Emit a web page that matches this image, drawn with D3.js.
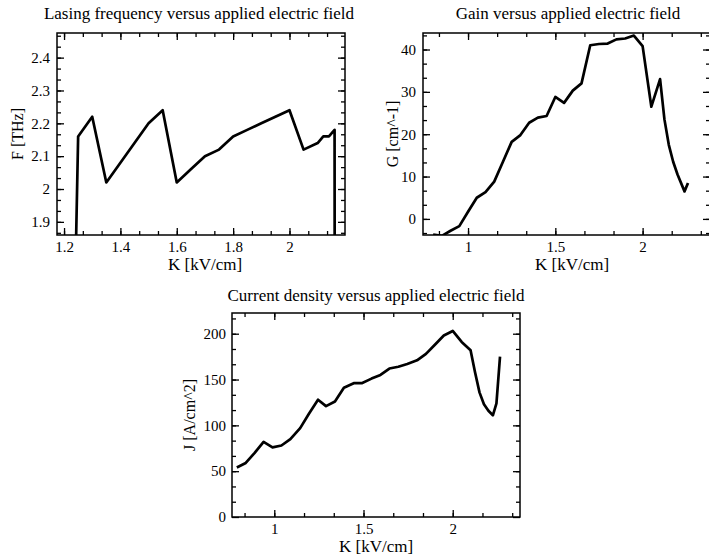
<!DOCTYPE html>
<html>
<head>
<meta charset="utf-8">
<script src="https://cdn.jsdelivr.net/npm/d3@7"></script>
<style>
  body { margin: 0; background: #fff; }
  svg text { font-family: "Liberation Serif", "DejaVu Serif", serif !important; fill: #000; }
</style>
</head>
<body>
<script>
// lasing frequency F [THz] vs K [kV/cm]
var freqK = [1.2, 1.25, 1.3, 1.35, 1.4, 1.45, 1.5, 1.55, 1.6, 1.65, 1.7, 1.75, 1.8, 1.85, 1.9, 1.95, 2.0, 2.05, 2.1, 2.12, 2.14, 2.16, 2.162];
var freqF = [0, 2.16, 2.22, 2.02, 2.08, 2.14, 2.2, 2.24, 2.02, 2.06, 2.1, 2.12, 2.16, 2.18, 2.2, 2.22, 2.24, 2.12, 2.14, 2.16, 2.16, 2.18, 0];

// gain G [cm^-1]
var gainK = [0.8, 0.85, 0.9, 0.95, 1.0, 1.05, 1.1, 1.15, 1.2, 1.25, 1.3, 1.35, 1.4, 1.45, 1.5, 1.55, 1.6, 1.65, 1.7, 1.75, 1.8, 1.85, 1.9, 1.95, 2.0, 2.05, 2.1, 2.125, 2.15, 2.175, 2.2, 2.24, 2.26];
var gainG = [-3.7, -4.0, -2.8, -1.7, 1.7, 5.0, 6.3, 8.8, 13.5, 18.2, 19.8, 22.7, 23.9, 24.3, 28.8, 27.4, 30.3, 32.0, 41.0, 41.3, 41.4, 42.4, 42.6, 43.3, 40.8, 26.5, 33.0, 23.5, 17.5, 13.5, 10.5, 6.5, 8.5];

// current density J [A/cm^2]
var curK = [0.79, 0.84, 0.89, 0.94, 0.99, 1.04, 1.09, 1.145, 1.195, 1.245, 1.29, 1.34, 1.39, 1.445, 1.49, 1.545, 1.595, 1.645, 1.695, 1.745, 1.8, 1.85, 1.9, 1.95, 2.0, 2.05, 2.1, 2.125, 2.15, 2.175, 2.2, 2.225, 2.245, 2.265];
var curJ = [54, 59, 70, 82, 76, 78, 85, 97, 113, 128, 121, 126, 141, 146, 146, 151, 155, 162, 164, 167, 171, 178, 188, 198, 203, 191, 182, 158, 136, 123, 116, 111, 124, 175];

var panels = [
  {title: 'Lasing frequency versus applied electric field', xLab: 'K [kV/cm]', yLab: 'F [THz]',
   xs: freqK, ys: freqF, x0: 57, x1: 345, y0: 33, y1: 235,
   xDom: [1.175, 2.197], yDom: [1.86, 2.475],
   xTicks: [1.2, 1.4, 1.6, 1.8, 2], yTicks: [1.9, 2, 2.1, 2.2, 2.3, 2.4],
   tx: 199, lx: 205, ty: 19, yOff: 34},
  {title: 'Gain versus applied electric field', xLab: 'K [kV/cm]', yLab: 'G [cm^-1]',
   xs: gainK, ys: gainG, x0: 423, x1: 710, y0: 33, y1: 235,
   xDom: [0.742, 2.386], yDom: [-3.8, 43.9],
   xTicks: [1, 1.5, 2], yTicks: [0, 10, 20, 30, 40],
   tx: 568, lx: 572, ty: 19, yOff: 25},
  {title: 'Current density versus applied electric field', xLab: 'K [kV/cm]', yLab: 'J [A/cm^2]',
   xs: curK, ys: curJ, x0: 232, x1: 520, y0: 313, y1: 517,
   xDom: [0.763, 2.377], yDom: [0, 222.6],
   xTicks: [1, 1.5, 2], yTicks: [0, 50, 100, 150, 200],
   tx: 376, lx: 376, ty: 301, yOff: 37}
];

var svg = d3.select('body').append('svg').attr('width', 709).attr('height', 558);

function minors(ticks, dom) {
  var step = (ticks[1] - ticks[0]) / 3, out = [];
  for (var v = ticks[0] - 10 * step; v <= dom[1] + 1e-9; v += step) {
    if (v >= dom[0] && v <= dom[1]) out.push(v);
  }
  return out;
}

panels.forEach(function(p, i) {
  var x = d3.scaleLinear().domain(p.xDom).range([p.x0, p.x1]);
  var y = d3.scaleLinear().domain(p.yDom).range([p.y1, p.y0]);
  var g = svg.append('g').attr('class', 'panel' + i);
  var fmt = function(d) { return d3.format('~g')(d); };

  var xMin = minors(p.xTicks, p.xDom), yMin = minors(p.yTicks, p.yDom);

  // ticks on all four sides, pointing inward
  var sides = [
    [d3.axisBottom(x), 'translate(0,' + p.y1 + ')', p.xTicks, xMin, 6],
    [d3.axisTop(x), 'translate(0,' + p.y0 + ')', p.xTicks, xMin, 0],
    [d3.axisLeft(y), 'translate(' + p.x0 + ',0)', p.yTicks, yMin, i == 2 ? 6 : 7],
    [d3.axisRight(y), 'translate(' + p.x1 + ',0)', p.yTicks, yMin, 0]
  ];
  sides.forEach(function(s) {
    g.append('g').attr('transform', s[1])
      .call(s[0].tickValues(s[3]).tickSize(-4).tickFormat(''))
      .call(function(a) { a.select('.domain').remove(); });
    var ax = g.append('g').attr('transform', s[1])
      .call(s[0].tickValues(s[2]).tickSize(-7).tickPadding(s[4])
        .tickFormat(s[4] ? fmt : ''));
    ax.select('.domain').remove();
    ax.attr('font-family', 'Liberation Serif');
    ax.selectAll('text').style('font-size', '15px');
  });
  g.selectAll('.tick line').attr('stroke', '#000').attr('stroke-width', 1.3);

  g.append('rect').attr('x', p.x0).attr('y', p.y0)
    .attr('width', p.x1 - p.x0).attr('height', p.y1 - p.y0)
    .attr('fill', 'none').attr('stroke', '#000').attr('stroke-width', 1.5);

  g.append('clipPath').attr('id', 'clip' + i).append('rect')
    .attr('x', p.x0).attr('y', p.y0).attr('width', p.x1 - p.x0).attr('height', p.y1 - p.y0);

  var line = d3.line()
    .x(function(d, k) { return x(p.xs[k]); })
    .y(function(d) { return y(d); });
  g.append('path').attr('clip-path', 'url(#clip' + i + ')')
    .attr('fill', 'none').attr('stroke', '#000').attr('stroke-width', 2.7)
    .attr('stroke-linejoin', 'round')
    .attr('d', line(p.ys));

  g.append('text').attr('x', p.tx).attr('y', p.ty).attr('text-anchor', 'middle')
    .style('font-size', '17px').text(p.title);
  g.append('text').attr('x', p.lx).attr('y', p.y1 + 35).attr('text-anchor', 'middle')
    .style('font-size', '17px').text(p.xLab);
  g.append('text').attr('transform', 'translate(' + (p.x0 - p.yOff) + ',' + ((p.y0 + p.y1) / 2) + ') rotate(-90)')
    .attr('text-anchor', 'middle').style('font-size', '16px').text(p.yLab);
});
</script>
</body>
</html>
